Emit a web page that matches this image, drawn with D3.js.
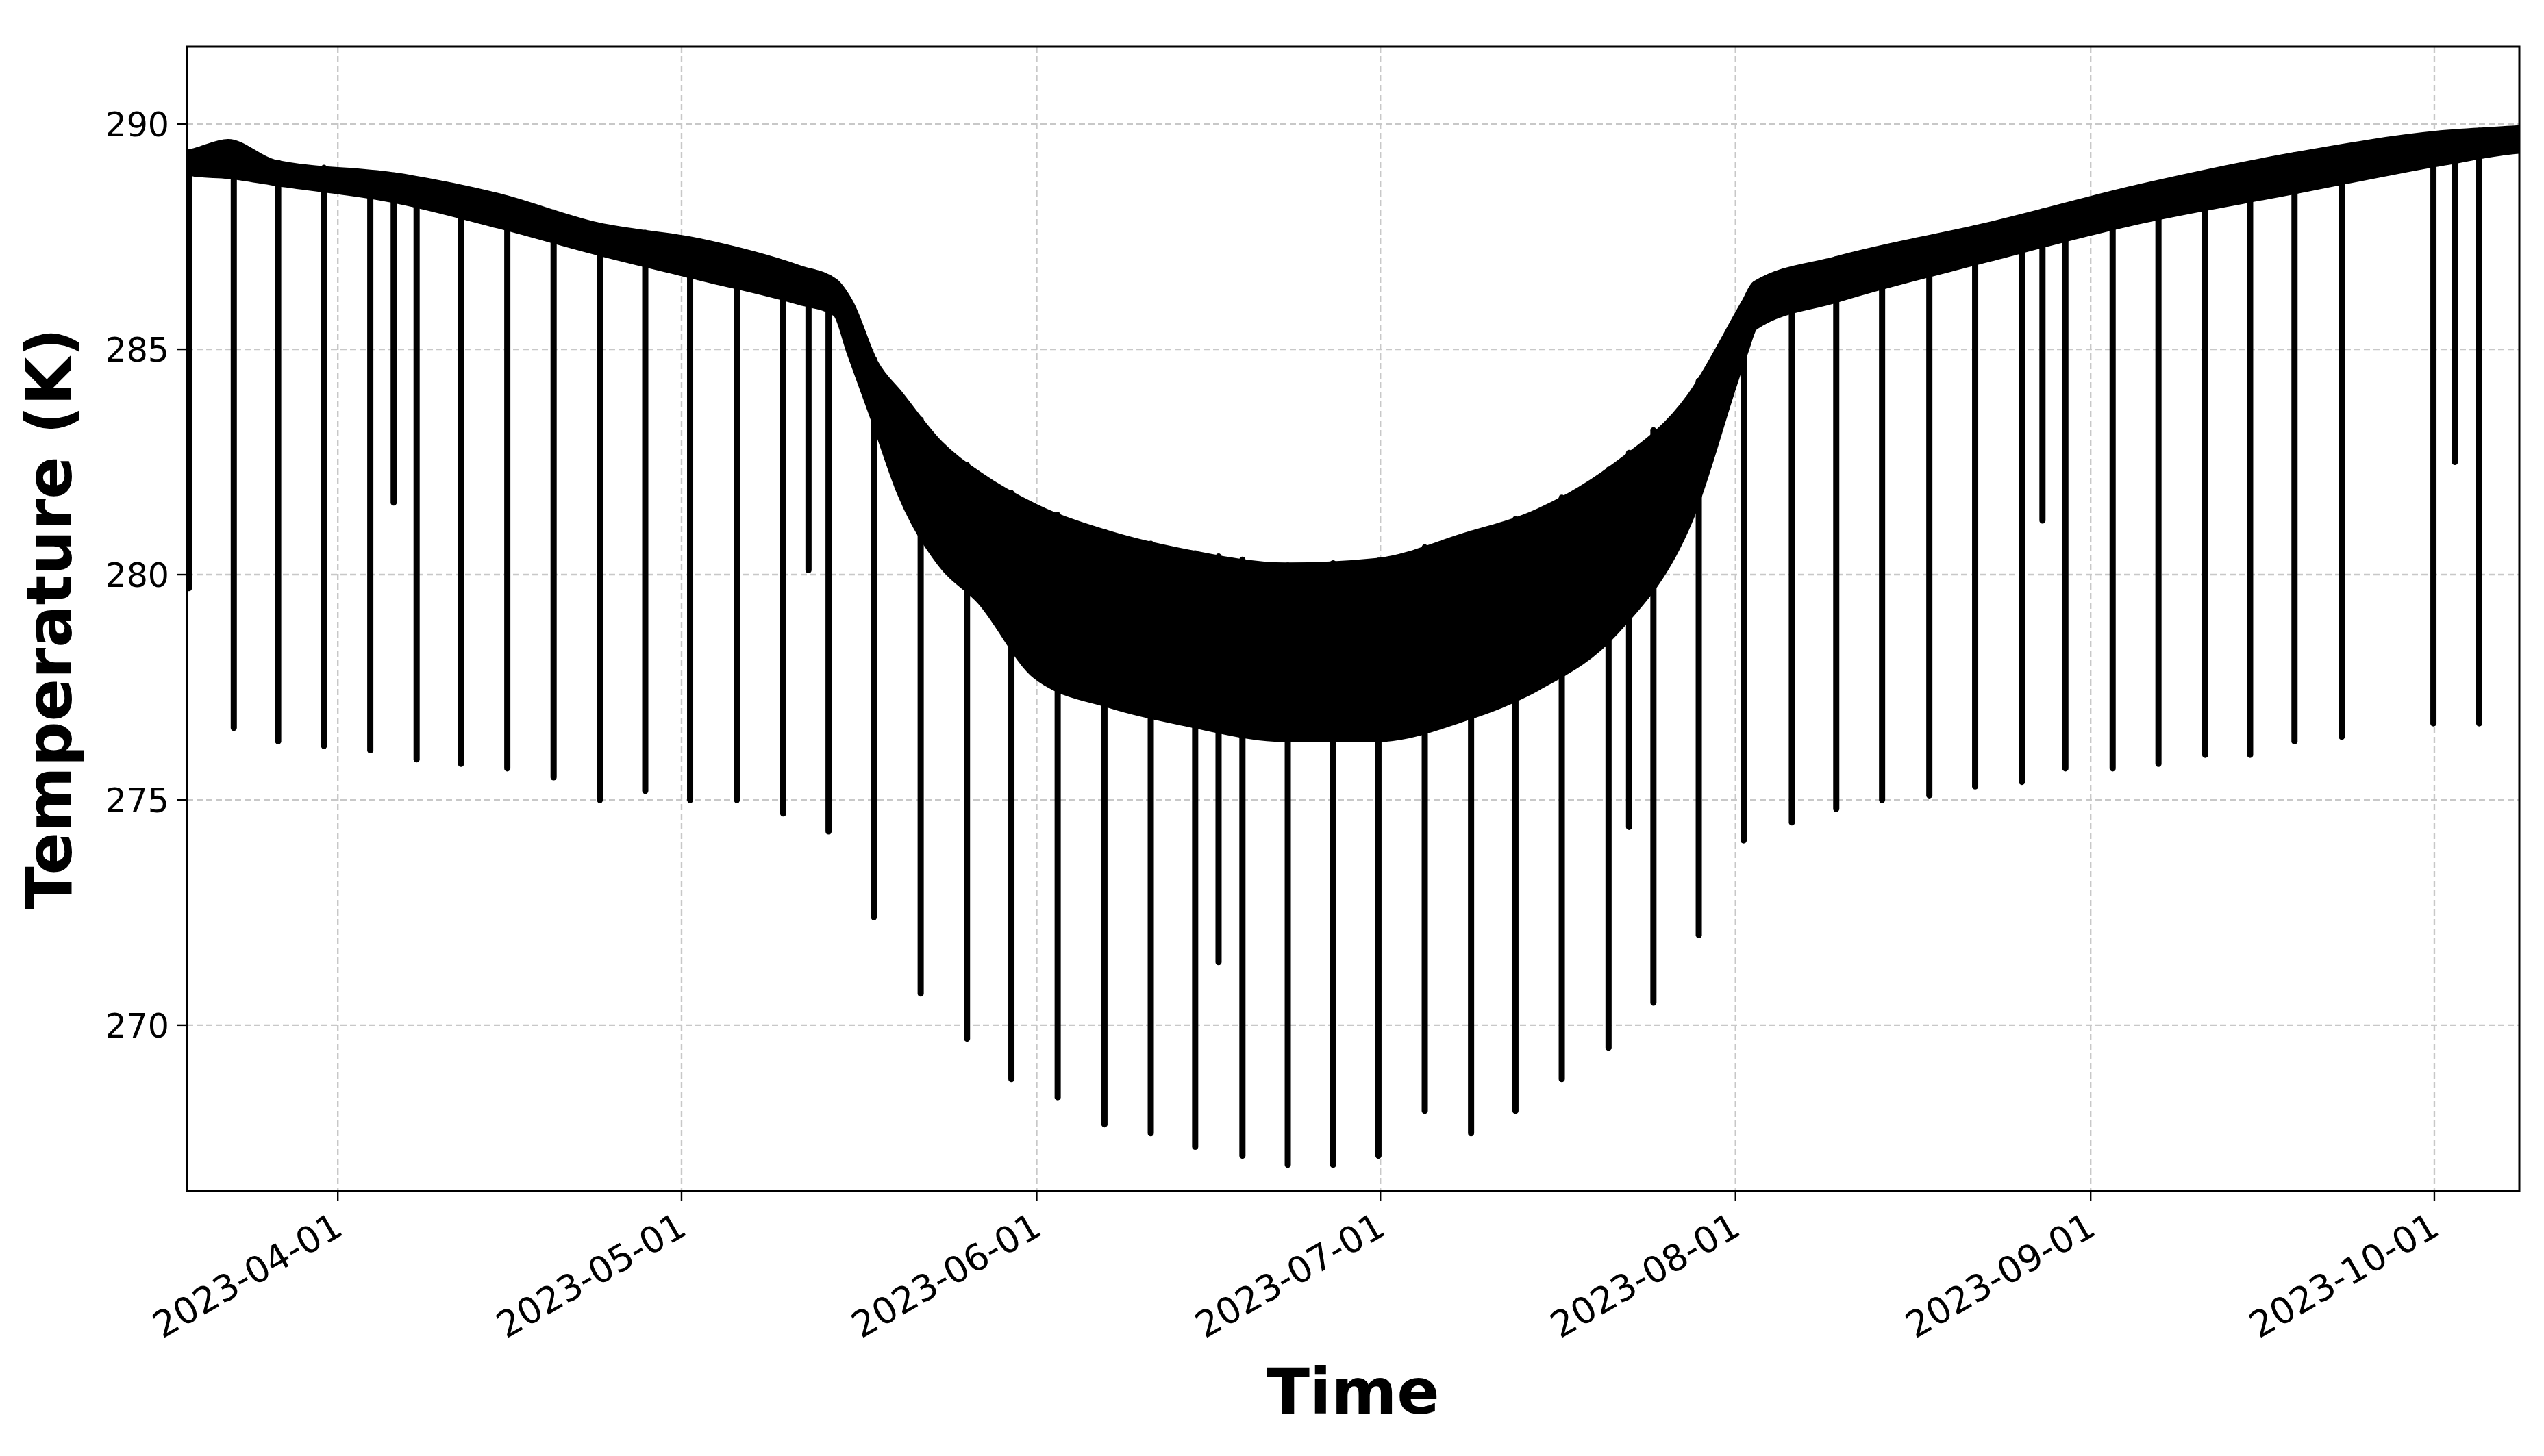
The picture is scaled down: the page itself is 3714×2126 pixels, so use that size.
<!DOCTYPE html>
<html><head><meta charset="utf-8">
<script src="https://cdn.jsdelivr.net/npm/d3@7"></script>
<style>body{margin:0;background:#fff}</style>
</head><body>
<svg id="c" width="3714" height="2126"></svg>
<script>
// Band envelope (dense night/day scatter)
const bandTimes = ["2023-03-18T17","2023-03-19T12","2023-03-22T10","2023-03-26T10","2023-04-06T05","2023-04-15T00","2023-04-23T17","2023-05-02T12","2023-05-11T07","2023-05-14T10","2023-05-15T17","2023-05-17T22","2023-05-20T02","2023-05-23T14","2023-05-27T02","2023-05-31T22","2023-06-07T10","2023-06-14T00","2023-06-22T19","2023-06-30T17","2023-07-08T05","2023-07-14T19","2023-07-21T10","2023-07-28T00","2023-08-01T19","2023-08-02T17","2023-08-09T19","2023-08-23T00","2023-09-05T07","2023-09-18T14","2023-10-01T22","2023-10-08T00","2023-10-11T12"];
const bandTop = [289.35,289.4,289.6,289.15,288.85,288.4,287.75,287.4,286.8,286.5,286.05,284.7,284.0,282.9,282.2,281.5,280.9,280.5,280.2,280.3,280.85,281.4,282.4,283.95,286.05,286.45,287.0,287.75,288.6,289.3,289.8,289.9,289.95];
const bandBottom = [289.0,288.9,288.85,288.7,288.3,287.75,287.15,286.6,286.05,285.8,284.9,283.35,281.8,280.25,279.4,277.75,277.1,276.7,276.35,276.35,276.8,277.5,278.7,281.2,284.9,285.5,286.1,287.0,287.85,288.5,289.15,289.4,289.45];
// Cold dips: time and minimum temperature (K)
const dipTimes = ["2023-03-19T00","2023-03-22T22","2023-03-26T19","2023-03-30T19","2023-04-03T20","2023-04-05T21","2023-04-07T21","2023-04-11T18","2023-04-15T19","2023-04-19T20","2023-04-23T21","2023-04-27T20","2023-05-01T18","2023-05-05T20","2023-05-09T21","2023-05-12T02","2023-05-13T20","2023-05-17T19","2023-05-21T21","2023-05-25T22","2023-05-29T19","2023-06-02T20","2023-06-06T22","2023-06-10T23","2023-06-14T20","2023-06-16T21","2023-06-18T23","2023-06-22T22","2023-06-26T21","2023-06-30T20","2023-07-04T21","2023-07-08T22","2023-07-12T19","2023-07-16T20","2023-07-20T22","2023-07-22T17","2023-07-24T20","2023-07-28T19","2023-08-01T17","2023-08-05T22","2023-08-09T19","2023-08-13T19","2023-08-17T22","2023-08-21T22","2023-08-26T00","2023-08-27T19","2023-08-29T19","2023-09-02T22","2023-09-06T22","2023-09-11T00","2023-09-14T22","2023-09-18T19","2023-09-22T22","2023-09-30T22","2023-10-02T19","2023-10-04T22"];
const dipMin = [279.7,276.6,276.3,276.2,276.1,281.6,275.9,275.8,275.7,275.5,275.0,275.2,275.0,275.0,274.7,280.1,274.3,272.4,270.7,269.7,268.8,268.4,267.8,267.6,267.3,271.4,267.1,266.9,266.9,267.1,268.1,267.6,268.1,268.8,269.5,274.4,270.5,272.0,274.1,274.5,274.8,275.0,275.1,275.3,275.4,281.2,275.7,275.7,275.8,276.0,276.0,276.3,276.4,276.7,282.5,276.7];
const yTicks = [270,275,280,285,290];
const xTicks = ["2023-04-01","2023-05-01","2023-06-01","2023-07-01","2023-08-01","2023-09-01","2023-10-01"];

const P = d3.timeParse("%Y-%m-%dT%H"), PD = d3.timeParse("%Y-%m-%d");
const L=273,R=3678,T=68,B=1739;
const x = d3.scaleTime().domain([P("2023-03-18T20"),P("2023-10-08T10")]).range([L,R]);
const y = d3.scaleLinear().domain([266.32,291.72]).range([B,T]);
const svg = d3.select("#c");
const font = "DejaVu Sans, sans-serif";

// grid
const g = svg.append("g");
g.selectAll(".gx").data(xTicks).join("line").attr("x1",d=>x(PD(d))).attr("x2",d=>x(PD(d)))
 .attr("y1",T).attr("y2",B).attr("stroke","#c8c8c8").attr("stroke-width",2.4).attr("stroke-dasharray","9,5");
g.selectAll(".gy").data(yTicks).join("line").attr("y1",d=>y(d)).attr("y2",d=>y(d))
 .attr("x1",L).attr("x2",R).attr("stroke","#c8c8c8").attr("stroke-width",2.4).attr("stroke-dasharray","9,5");

svg.append("clipPath").attr("id","cp").append("rect").attr("x",L).attr("y",T).attr("width",R-L).attr("height",B-T);
const plot = svg.append("g").attr("clip-path","url(#cp)");

const band = bandTimes.map((t,i)=>({t:P(t),hi:bandTop[i],lo:bandBottom[i]}));
const bis = d3.bisector(d=>d.t).left;
function topAt(t){const i=Math.max(1,Math.min(band.length-1,bis(band,t)));const a=band[i-1],b=band[i];const f=(t-a.t)/(b.t-a.t);return a.hi+(b.hi-a.hi)*f;}

plot.append("path").datum(band)
 .attr("d",d3.area().x(d=>x(d.t)).y0(d=>y(d.lo)).y1(d=>y(d.hi)).curve(d3.curveMonotoneX))
 .attr("fill","#000").attr("stroke","#000").attr("stroke-width",9).attr("stroke-linejoin","round");

const dips = dipTimes.map((t,i)=>({t:P(t),m:dipMin[i]}));
plot.selectAll(".dip").data(dips).join("line")
 .attr("x1",d=>x(d.t)).attr("x2",d=>x(d.t))
 .attr("y1",d=>y(topAt(d.t))).attr("y2",d=>y(d.m))
 .attr("stroke","#000").attr("stroke-width",9).attr("stroke-linecap","round");

// frame
svg.append("rect").attr("x",L).attr("y",T).attr("width",R-L).attr("height",B-T).attr("fill","none").attr("stroke","#000").attr("stroke-width",3);

// y axis
const ya = svg.append("g");
ya.selectAll("line").data(yTicks).join("line").attr("x1",L-14).attr("x2",L).attr("y1",d=>y(d)).attr("y2",d=>y(d)).attr("stroke","#000").attr("stroke-width",2.4);
ya.selectAll("text").data(yTicks).join("text").attr("x",L-26).attr("y",d=>y(d)).attr("dy","0.36em")
 .attr("text-anchor","end").attr("font-family",font).attr("font-size",49).text(d=>d);
// x axis
const xa = svg.append("g");
xa.selectAll("line").data(xTicks).join("line").attr("x1",d=>x(PD(d))).attr("x2",d=>x(PD(d))).attr("y1",B).attr("y2",B+14).attr("stroke","#000").attr("stroke-width",2.4);
xa.selectAll("text").data(xTicks).join("text")
 .attr("transform",d=>`translate(${x(PD(d))-8},${B+30}) rotate(-30)`)
 .attr("text-anchor","end").attr("dy","0.7em").attr("font-family",font).attr("font-size",53).text(d=>d);

svg.append("text").attr("x",(L+R)/2).attr("y",2064).attr("text-anchor","middle").attr("font-family",font)
 .attr("font-weight","bold").attr("font-size",92).text("Time");
svg.append("text").attr("transform",`translate(104,${(T+B)/2}) rotate(-90)`).attr("text-anchor","middle").attr("font-family",font)
 .attr("font-weight","bold").attr("font-size",92).text("Temperature (K)");
</script>
</body></html>
